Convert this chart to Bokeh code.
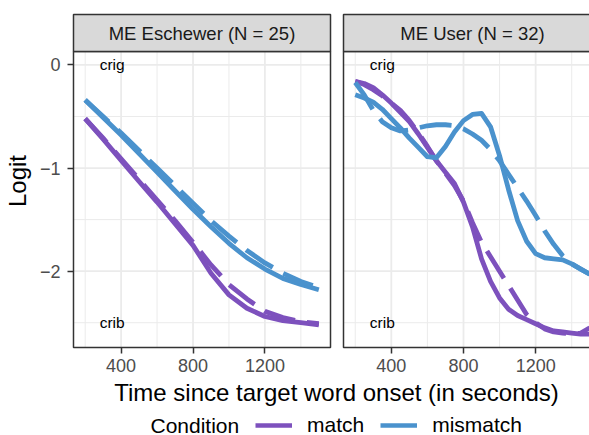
from bokeh.plotting import figure
from bokeh.models import Range1d, FixedTicker, Legend, LegendItem
from bokeh.layouts import row, column
from bokeh.embed import file_html
from bokeh.resources import INLINE
from bokeh.core.properties import value

# ---------------- data ----------------
esch_time = [200, 300, 400, 500, 600, 700, 800, 900, 1000, 1100, 1200, 1300, 1400, 1500]
esch_match_solid = [-0.52, -0.72, -0.925, -1.13, -1.33, -1.54, -1.75, -2.02, -2.23, -2.36, -2.44, -2.48, -2.50, -2.52]
esch_match_dashed = [-0.52, -0.71, -0.91, -1.11, -1.31, -1.51, -1.72, -1.94, -2.13, -2.27, -2.39, -2.45, -2.49, -2.51]
esch_mismatch_solid = [-0.34, -0.51, -0.68, -0.86, -1.04, -1.22, -1.40, -1.57, -1.73, -1.87, -1.98, -2.07, -2.13, -2.18]
esch_mismatch_dashed = [-0.34, -0.50, -0.66, -0.83, -1.00, -1.17, -1.34, -1.51, -1.66, -1.80, -1.92, -2.02, -2.10, -2.16]

user_time = [200, 250, 300, 350, 400, 450, 500, 550, 600, 650, 700, 750, 800, 850,
             900, 950, 1000, 1050, 1100, 1150, 1200, 1250, 1300, 1350, 1400, 1450, 1500]
user_match_solid = [-0.16, -0.18, -0.22, -0.29, -0.37, -0.46, -0.55, -0.67, -0.80, -0.93, -1.04, -1.15, -1.33, -1.57,
                    -1.88, -2.10, -2.26, -2.37, -2.43, -2.47, -2.51, -2.55, -2.58, -2.59, -2.60, -2.61, -2.61]
user_match_dashed = [-0.16, -0.19, -0.24, -0.30, -0.37, -0.44, -0.54, -0.66, -0.79, -0.93, -1.05, -1.17, -1.32, -1.53,
                     -1.72, -1.86, -2.00, -2.14, -2.28, -2.42, -2.50, -2.56, -2.59, -2.60, -2.61, -2.60, -2.55]
user_mismatch_solid = [-0.29, -0.32, -0.36, -0.43, -0.52, -0.61, -0.71, -0.80, -0.89, -0.90, -0.79, -0.65, -0.54, -0.48,
                       -0.47, -0.60, -0.88, -1.21, -1.51, -1.71, -1.83, -1.87, -1.88, -1.89, -1.93, -1.98, -2.03]
user_mismatch_dashed = [-0.17, -0.29, -0.44, -0.55, -0.61, -0.64, -0.63, -0.61, -0.59, -0.58, -0.58, -0.59, -0.62, -0.67,
                        -0.73, -0.82, -0.93, -1.06, -1.19, -1.32, -1.46, -1.61, -1.74, -1.85, -1.93, -1.98, -2.03]

panel_titles = ["ME Eschewer (N = 25)", "ME User (N = 32)"]
conditions = ["match", "mismatch"]
legend_title = "Condition"
x_title = "Time since target word onset (in seconds)"
y_title = "Logit"
note_text = ["crig", "crib"]
note_x = [350, 350]
note_y = [0, -2.5]
x_major = [400, 800, 1200]
x_minor = [200, 600, 1000, 1400]
y_major = [0, -1, -2]
y_minor = [-0.5, -1.5, -2.5]
y_labels = {0: "0", -1: "\u22121", -2: "\u22122"}

# ---------------- style ----------------
PURPLE = "#7D51BD"
BLUE = "#4A92CD"
COLORS = [PURPLE, BLUE]
FONT = "Liberation Sans"
DASH = "32 12"
LW = 4.8
BORDER = "#333333"
GRID = "#EBEBEB"

# scales (ggplot-like 5% expansion)
all_x = esch_time + user_time
x_min, x_max = min(all_x), max(all_x)
XR = x_max - x_min
X0, X1 = x_min - 0.05 * XR, x_max + 0.05 * XR
all_y = (esch_match_solid + esch_match_dashed + esch_mismatch_solid + esch_mismatch_dashed +
         user_match_solid + user_match_dashed + user_mismatch_solid + user_mismatch_dashed + note_y)
y_min, y_max = min(all_y), max(all_y)
YR = y_max - y_min
Y0, Y1 = y_min - 0.05 * YR, y_max + 0.05 * YR

PANEL_W = 258
PANEL_H = 296
STRIP_H = 37
PAD = 2
sx = PANEL_W / (X1 - X0)
sy = PANEL_H / (Y1 - Y0)
TOP = 12
BOTTOM = 29
FRAME_H = PANEL_H + STRIP_H + 2 * PAD
FIG_H = TOP + FRAME_H + BOTTOM


def make_panel(idx, time, series, left):
    if left:
        frame_w, mbl = PANEL_W + 2 * PAD, 70
    else:
        frame_w, mbl = 248, 9
    xs = X0 - PAD / sx
    p = figure(width=mbl + frame_w, height=FIG_H,
               x_range=Range1d(xs, xs + frame_w / sx),
               y_range=Range1d(Y0 - PAD / sy, Y1 + (STRIP_H + PAD) / sy),
               min_border_left=mbl, min_border_right=0, min_border_top=TOP, min_border_bottom=BOTTOM,
               output_backend="svg", toolbar_location=None,
               y_axis_location="left" if left else None,
               background_fill_color="white", border_fill_color="white")
    p.outline_line_color = None
    p.grid.visible = False

    # gridlines inside panel
    p.segment(x0=x_minor, x1=x_minor, y0=[Y0] * len(x_minor), y1=[Y1] * len(x_minor),
              line_color=GRID, line_width=1.0)
    p.segment(x0=[X0] * len(y_minor), x1=[X1] * len(y_minor), y0=y_minor, y1=y_minor,
              line_color=GRID, line_width=1.0)
    p.segment(x0=x_major, x1=x_major, y0=[Y0] * len(x_major), y1=[Y1] * len(x_major),
              line_color=GRID, line_width=1.8)
    p.segment(x0=[X0] * len(y_major), x1=[X1] * len(y_major), y0=y_major, y1=y_major,
              line_color=GRID, line_width=1.8)

    # lines
    for (ys, col, dashed) in series:
        p.line(time, ys, line_color=col, line_width=LW,
               line_dash=DASH if dashed else "solid", line_cap="butt", line_join="round")

    # annotations
    p.text(x=note_x, y=note_y, text=note_text, text_align="center", text_baseline="middle",
           text_font=value(FONT), text_font_size="15.5px", text_color="black")

    # panel border
    p.quad(left=[X0], right=[X1], bottom=[Y0], top=[Y1], fill_color=None,
           line_color=BORDER, line_width=1.5)
    # strip
    p.quad(left=[X0], right=[X1], bottom=[Y1], top=[Y1 + STRIP_H / sy], fill_color="#D9D9D9",
           line_color=BORDER, line_width=1.5)
    p.text(x=[(X0 + X1) / 2], y=[Y1 + 18.3 / sy], text=[panel_titles[idx]], text_align="center",
           text_baseline="middle", text_font=value(FONT), text_font_size="18.5px",
           text_color="#1A1A1A")

    # x axis
    ax = p.xaxis[0]
    ax.ticker = FixedTicker(ticks=x_major)
    ax.axis_line_color = None
    ax.major_tick_in = PAD
    ax.major_tick_out = 4
    ax.major_tick_line_color = BORDER
    ax.major_tick_line_width = 1.5
    ax.minor_tick_line_color = None
    ax.major_label_text_font = FONT
    ax.major_label_text_font_size = "18px"
    ax.major_label_text_color = "#4D4D4D"
    ax.major_label_standoff = 5

    if left:
        ay = p.yaxis[0]
        ay.ticker = FixedTicker(ticks=y_major)
        ay.major_label_overrides = y_labels
        ay.axis_line_color = None
        ay.major_tick_in = PAD
        ay.major_tick_out = 4
        ay.major_tick_line_color = BORDER
        ay.major_tick_line_width = 1.5
        ay.minor_tick_line_color = None
        ay.major_label_text_font = FONT
        ay.major_label_text_font_size = "18px"
        ay.major_label_text_color = "#4D4D4D"
        ay.major_label_standoff = 7
        ay.axis_label = y_title
        ay.axis_label_text_font = FONT
        ay.axis_label_text_font_size = "24px"
        ay.axis_label_text_font_style = "normal"
        ay.axis_label_text_color = "black"
        ay.axis_label_standoff = 6
    return p


p_left = make_panel(0, esch_time, [
    (esch_match_solid, PURPLE, False), (esch_match_dashed, PURPLE, True),
    (esch_mismatch_solid, BLUE, False), (esch_mismatch_dashed, BLUE, True)], True)
p_right = make_panel(1, user_time, [
    (user_match_solid, PURPLE, False), (user_match_dashed, PURPLE, True),
    (user_mismatch_solid, BLUE, False), (user_mismatch_dashed, BLUE, True)], False)

# bottom: x title + legend (pixel-like coordinates)
BH = 435 - FIG_H
pb = figure(width=589, height=BH, x_range=Range1d(0, 589), y_range=Range1d(0, BH),
            min_border=0, output_backend="svg", toolbar_location=None,
            x_axis_location=None, y_axis_location=None,
            background_fill_color="white", border_fill_color="white")
pb.outline_line_color = None
pb.grid.visible = False
pb.text(x=[336], y=[BH - 14.2], text=[x_title], text_align="center", text_baseline="middle",
        text_font=value(FONT), text_font_size="24px", text_color="black")
pb.text(x=[150], y=[10.5], text=[legend_title], text_align="left", text_baseline="middle",
        text_font=value(FONT), text_font_size="21px", text_color="black")
items = []
for cond, col in zip(conditions, COLORS):
    # off-canvas helper renderer: only its style is used by the legend key
    r = pb.line(x=[-100, -90], y=[-100, -100], line_color=col, line_width=4.5, line_cap="butt")
    items.append(LegendItem(label=cond, renderers=[r]))
legend = Legend(items=items, orientation="horizontal", location=(255, -2), padding=0, margin=0,
                spacing=16, label_standoff=15, glyph_width=37, glyph_height=20,
                label_text_font=FONT, label_text_font_size="21px", label_text_color="black",
                border_line_color=None, background_fill_alpha=0)
pb.add_layout(legend)

layout = column(row(p_left, p_right), pb)
open("out.html", "w").write(file_html(layout, INLINE))
